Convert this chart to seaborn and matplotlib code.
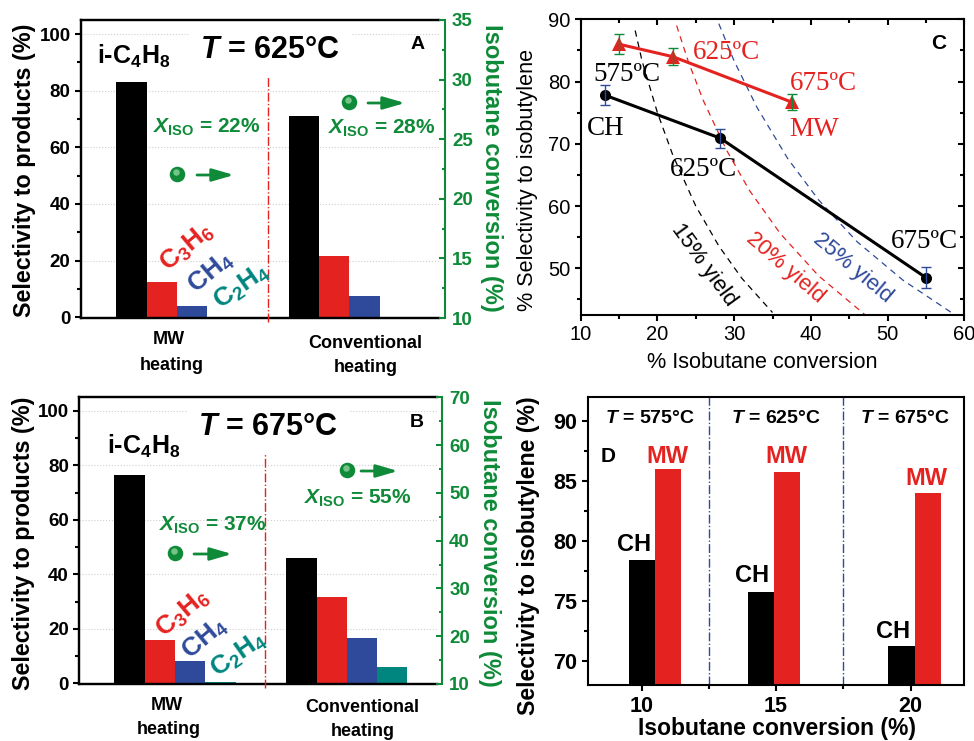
import matplotlib
matplotlib.use("Agg")
import matplotlib.pyplot as plt
from matplotlib.ticker import MultipleLocator
import pandas as pd
import seaborn as sns

# ---------- data ----------
heating_groups = ["MW\nheating", "Conventional\nheating"]
products = ["i-C4H8", "C3H6", "CH4", "C2H4"]
sel_625_mw = [83.0, 12.4, 4.0, 0.2]
sel_625_ch = [71.0, 21.6, 7.6, 0.2]
sel_675_mw = [76.6, 15.8, 8.2, 0.3]
sel_675_ch = [46.0, 31.8, 16.6, 6.0]

mw_conv = [15.0, 22.0, 37.5]
mw_sel = [86.0, 84.0, 76.7]
mw_err = [1.6, 1.4, 1.3]
ch_conv = [13.2, 28.2, 55.0]
ch_sel = [77.8, 70.9, 48.5]
ch_err = [1.6, 1.5, 1.7]

yield15_x = [17.1, 18, 20, 22, 25, 28, 31, 35]
yield15_y = [88.2, 83.3, 75.0, 68.2, 60.0, 53.6, 48.4, 42.9]
yield20_x = [22.5, 24, 26, 29, 32, 36, 41, 47]
yield20_y = [89.0, 83.3, 76.9, 69.0, 62.5, 55.6, 48.8, 42.6]
yield25_x = [28, 30, 33, 37, 41, 46, 52, 58.8]
yield25_y = [89.3, 83.3, 75.8, 67.6, 61.0, 54.3, 48.1, 42.5]

d_conv = ["10", "15", "20"]
d_ch = [78.45, 75.8, 71.3]
d_mw = [86.0, 85.8, 84.0]

# ---------- style ----------
W, H = 974, 741
sns.set_theme(style="ticks")
plt.rcParams["font.family"] = ["Liberation Sans", "DejaVu Sans"]
plt.rcParams["mathtext.fontset"] = "custom"
plt.rcParams["mathtext.rm"] = "Liberation Sans:bold"
plt.rcParams["mathtext.it"] = "Liberation Sans:italic:bold"
plt.rcParams["mathtext.bf"] = "Liberation Sans:bold"
plt.rcParams["mathtext.default"] = "rm"
for key in ["text.color", "axes.labelcolor", "xtick.color", "ytick.color", "axes.edgecolor"]:
    plt.rcParams[key] = "black"

BLACK, RED, BLUE, TEAL = "#000000", "#E42320", "#2F4A9A", "#00857F"
GREEN = "#0E8A38"
LW = 1.5
palette = dict(zip(products, [BLACK, RED, BLUE, TEAL]))

fig = plt.figure(figsize=(W / 100, H / 100), dpi=100, facecolor="white")


def axes_px(l, t, r, b):
    return fig.add_axes([l / W, 1 - b / H, (r - l) / W, (b - t) / H])


over = axes_px(0, 0, W, H)
over.set_xlim(0, W)
over.set_ylim(H, 0)
over.axis("off")
over.set_zorder(20)


def txt(x, y, s, size, color="black", weight="bold", ha="left", va="baseline", **kw):
    return over.text(x, y, s, fontsize=size, color=color, fontweight=weight,
                     ha=ha, va=va, **kw)


def ball_arrow(x, y, x0, x1):
    over.scatter([x], [y], s=125, color=GREEN, linewidths=0, zorder=5)
    over.scatter([x - 1.5], [y - 2.5], s=22, color="#8fd29c", linewidths=0, zorder=6, alpha=.8)
    over.annotate("", xy=(x1, y + 1), xytext=(x0, y + 1),
                  arrowprops=dict(arrowstyle="-|>,head_length=1.1,head_width=0.32",
                                  color=GREEN, lw=2, shrinkA=0, shrinkB=0))


def selectivity_panel(box, spine_out, sel_mw, sel_ch, conv_range, conv_major, lims,
                      ylab_xy, rlab_xy, split):
    l, t, r, b = box
    ax = axes_px(l, t, r, b)
    df = pd.DataFrame({
        "group": [heating_groups[0]] * 4 + [heating_groups[1]] * 4,
        "product": products * 2,
        "value": list(sel_mw) + list(sel_ch),
    })
    sns.barplot(data=df, x="group", y="value", hue="product", hue_order=products,
                palette=palette, saturation=1, width=0.705, gap=0, errorbar=None,
                linewidth=0, legend=False, ax=ax)
    ax.set_xlim(*lims)
    ax.set_ylim(-0.3, 105)
    ax.set_xticks([])
    ax.set_xlabel("")
    ax.set_yticks(range(0, 101, 20))
    ax.yaxis.set_minor_locator(MultipleLocator(10))
    ax.set_axisbelow(True)
    ax.grid(axis="y", ls=":", lw=0.8, color="#d0d0d0")
    ax.tick_params(axis="y", which="major", direction="out", length=4.5, width=LW,
                   labelsize=13.5, pad=3)
    ax.tick_params(axis="y", which="minor", direction="out", length=2.8, width=LW)
    for lab in ax.get_yticklabels():
        lab.set_fontweight("bold")
    for s in ["left", "top", "bottom"]:
        ax.spines[s].set_linewidth(LW * 1.15)
    ax.spines["right"].set_visible(False)
    ax.set_ylabel("Selectivity to products (%)", fontsize=16.8, fontweight="bold", va="center")
    ax.yaxis.set_label_coords(*ylab_xy, transform=over.transData)
    ax.plot([split, split], [-0.015, 0.828], transform=ax.get_xaxis_transform(),
            color=RED, ls="-.", lw=1, clip_on=False, zorder=6)

    ax2 = ax.twinx()
    ax2.set_ylim(*conv_range)
    ax2.yaxis.set_major_locator(MultipleLocator(conv_major))
    ax2.yaxis.set_minor_locator(MultipleLocator(conv_major / 2))
    for s in ["left", "top", "bottom"]:
        ax2.spines[s].set_visible(False)
    ax2.spines["right"].set_visible(True)
    ax2.spines["right"].set_position(("outward", spine_out))
    ax2.spines["right"].set_color(GREEN)
    ax2.spines["right"].set_linewidth(LW)
    ax2.tick_params(axis="y", which="major", direction="in", length=4.5, width=LW,
                    color=GREEN, labelcolor=GREEN, labelsize=13.5, pad=5)
    ax2.tick_params(axis="y", which="minor", direction="in", length=2.5, width=LW, color=GREEN)
    for lab in ax2.get_yticklabels():
        lab.set_fontweight("bold")
    ax2.set_ylabel("Isobutane conversion (%)", fontsize=17, fontweight="bold",
                   color=GREEN, rotation=270, va="center")
    ax2.yaxis.set_label_coords(*rlab_xy, transform=over.transData)
    return ax


# ---------- panel A ----------
selectivity_panel((81, 20, 439, 318), 4.3, sel_625_mw, sel_625_ch, (10, 35), 5,
                  (-0.557, 1.52), (25, 170), (492, 168), 0.526)
txt(97, 64, r"i-C$_{4}$H$_{8}$", 18)
txt(200, 58, r"$\mathit{T}$ = 625°C", 22,
    bbox=dict(facecolor="white", edgecolor="none", pad=8))
txt(411, 49, "A", 14)
txt(153, 133, r"$\mathit{X}_{\mathrm{ISO}}$ = 22%", 15, GREEN)
txt(328, 134, r"$\mathit{X}_{\mathrm{ISO}}$ = 28%", 15, GREEN)
ball_arrow(177, 174, 197, 234)
ball_arrow(349, 102, 368, 405)
txt(187, 247, r"C$_{3}$H$_{6}$", 19, RED, ha="center", va="center", rotation=40, rotation_mode="anchor")
txt(211, 273, r"CH$_{4}$", 19, BLUE, ha="center", va="center", rotation=40, rotation_mode="anchor")
txt(242, 287, r"C$_{2}$H$_{4}$", 19, TEAL, ha="center", va="center", rotation=35, rotation_mode="anchor")
for (x, y), s in zip([(169, 340), (172, 365), (365, 343), (366, 368)],
                     [p for g in heating_groups for p in g.split("\n")]):
    txt(x, y, s, 13, ha="center", va="center")

# ---------- panel B ----------
selectivity_panel((79.3, 397.3, 436.7, 684), 4, sel_675_mw, sel_675_ch, (10, 70), 10,
                  (-0.557, 1.523), (24, 543), (489, 543), 0.526)
txt(107, 454, r"i-C$_{4}$H$_{8}$", 18)
txt(198, 435, r"$\mathit{T}$ = 675°C", 22,
    bbox=dict(facecolor="white", edgecolor="none", pad=8))
txt(410, 427, "B", 14)
txt(159, 531, r"$\mathit{X}_{\mathrm{ISO}}$ = 37%", 15, GREEN)
txt(304, 504, r"$\mathit{X}_{\mathrm{ISO}}$ = 55%", 15, GREEN)
ball_arrow(175, 553, 194, 232)
ball_arrow(347, 470, 361, 398)
txt(183, 613, r"C$_{3}$H$_{6}$", 19, RED, ha="center", va="center", rotation=40, rotation_mode="anchor")
txt(205, 639, r"CH$_{4}$", 19, BLUE, ha="center", va="center", rotation=40, rotation_mode="anchor")
txt(239, 655, r"C$_{2}$H$_{4}$", 19, TEAL, ha="center", va="center", rotation=35, rotation_mode="anchor")
for (x, y), s in zip([(167, 705), (169, 729), (362, 708), (363, 732)],
                     [p for g in heating_groups for p in g.split("\n")]):
    txt(x, y, s, 13, ha="center", va="center")

# ---------- panel C ----------
axc = axes_px(580.7, 19.3, 964.3, 315)
for xs, ys, col in [(yield15_x, yield15_y, "black"),
                    (yield20_x, yield20_y, RED),
                    (yield25_x, yield25_y, BLUE)]:
    sns.lineplot(x=xs, y=ys, color=col, lw=0.9, ls=(0, (5, 4)), sort=False, ax=axc, errorbar=None)
sns.lineplot(x=ch_conv, y=ch_sel, color="black", lw=2.2, sort=False, ax=axc, errorbar=None,
             marker="o", markersize=8, markeredgewidth=0)
sns.lineplot(x=mw_conv, y=mw_sel, color=RED, lw=2.2, sort=False, ax=axc, errorbar=None,
             marker="^", markersize=10, markeredgewidth=0)
axc.errorbar(ch_conv, ch_sel, yerr=ch_err, fmt="none", ecolor=BLUE, elinewidth=1, capsize=3.5, capthick=1, zorder=6)
axc.errorbar(mw_conv, mw_sel, yerr=mw_err, fmt="none", ecolor=GREEN, elinewidth=1, capsize=3.5, capthick=1, zorder=6)
axc.set_xlim(10, 60)
axc.set_ylim(42.5, 90)
axc.xaxis.set_major_locator(MultipleLocator(10))
axc.xaxis.set_minor_locator(MultipleLocator(5))
axc.yaxis.set_major_locator(MultipleLocator(10))
axc.yaxis.set_minor_locator(MultipleLocator(5))
axc.tick_params(which="major", direction="out", length=4.5, width=LW, labelsize=14.5, pad=3)
axc.tick_params(which="minor", direction="out", length=2.8, width=LW)
for s in axc.spines.values():
    s.set_linewidth(LW)
top = axc.secondary_xaxis("top")
top.xaxis.set_major_locator(MultipleLocator(10))
top.xaxis.set_minor_locator(MultipleLocator(5))
top.tick_params(which="both", direction="in", width=LW, labeltop=False)
top.tick_params(which="major", length=4.5)
top.tick_params(which="minor", length=2.8)
right = axc.secondary_yaxis("right")
right.yaxis.set_major_locator(MultipleLocator(10))
right.yaxis.set_minor_locator(MultipleLocator(5))
right.tick_params(which="both", direction="in", width=LW, labelright=False)
right.tick_params(which="major", length=4.5)
right.tick_params(which="minor", length=2.8)
axc.set_xlabel("% Isobutane conversion", fontsize=15.6, va="center")
axc.xaxis.set_label_coords(762, 362, transform=over.transData)
axc.set_ylabel("% Selectivity to isobutylene", fontsize=15.6, va="center")
axc.yaxis.set_label_coords(528, 180, transform=over.transData)
SERIF = ["Liberation Serif"]
for x, y, s, col in [(593, 81, "575ºC", "black"), (693, 59, "625ºC", RED), (790, 90, "675ºC", RED),
                     (789, 136, "MW", RED), (587, 135, "CH", "black"),
                     (670, 176, "625ºC", "black"), (891, 248, "675ºC", "black")]:
    txt(x, y, s, 19.5, col, weight="normal", family=SERIF)
txt(931, 49, "C", 15)
for x, y, s, col, rot in [(704, 265, "15% yield", "black", -54),
                          (785, 268, "20% yield", RED, -41),
                          (853, 268, "25% yield", BLUE, -40)]:
    txt(x, y, s, 16, col, weight="normal", ha="center", va="center", rotation=rot,
        rotation_mode="anchor")

# ---------- panel D ----------
axd = axes_px(587.7, 397.3, 964.3, 685.3)
dfd = pd.DataFrame({"conv": d_conv * 2,
                    "kind": ["CH"] * 3 + ["MW"] * 3,
                    "value": d_ch + d_mw})
sns.barplot(data=dfd, x="conv", y="value", hue="kind", hue_order=["CH", "MW"],
            palette={"CH": BLACK, "MW": RED}, saturation=1, width=0.39, gap=0,
            errorbar=None, linewidth=0, legend=False, ax=axd)
group_shift = [0.099, -0.015, 0.03]
for cont in axd.containers:
    for bar, dx in zip(cont, group_shift):
        bar.set_x(bar.get_x() + dx)
axd.set_xlim(-0.40, 2.40)
axd.set_ylim(68, 92)
axd.set_yticks([70, 75, 80, 85, 90])
axd.yaxis.set_minor_locator(MultipleLocator(2.5))
axd.set_xticks([0.5, 1.5], minor=True)
axd.tick_params(which="major", direction="out", length=4.5, width=LW, labelsize=15.5, pad=3)
axd.tick_params(which="minor", direction="out", length=2.8, width=LW)
for lab in axd.get_xticklabels() + axd.get_yticklabels():
    lab.set_fontweight("bold")
for s in axd.spines.values():
    s.set_linewidth(LW)
for xv in [0.5, 1.5]:
    axd.axvline(xv, color=BLUE, ls="-.", lw=1)
axd.set_xlabel("Isobutane conversion (%)", fontsize=16.5, fontweight="bold", va="center")
axd.xaxis.set_label_coords(777, 728, transform=over.transData)
axd.set_ylabel("Selectivity to isobutylene (%)", fontsize=16.7, fontweight="bold", va="center")
axd.yaxis.set_label_coords(528, 556, transform=over.transData)
for x, s in [(605, "575"), (730.7, "625"), (860, "675")]:
    txt(x, 423, r"$\mathit{T}$ = " + s + "°C", 14)
for x, y in [(667, 463), (786, 463), (926, 485)]:
    txt(x, y, "MW", 17, RED, ha="center")
for x, y in [(634, 551), (752, 582), (893, 638)]:
    txt(x, y, "CH", 17, ha="center")
txt(601, 462, "D", 15)

fig.savefig("out.png", dpi=100)
